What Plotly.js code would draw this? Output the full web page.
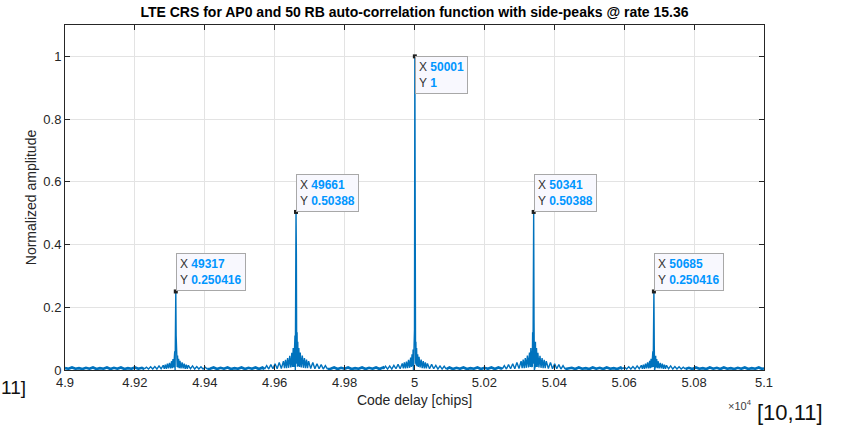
<!DOCTYPE html>
<html>
<head>
<meta charset="utf-8">
<script src="https://cdn.plot.ly/plotly-3.0.1.min.js"></script>
<style>html,body{margin:0;padding:0;background:#fff;}#chart{width:845px;height:426px;}</style>
</head>
<body>
<div id="chart"></div>
<script>
// ---- data ----
const peakCenters = [49317, 49661, 50001, 50341, 50685];
const peakHeights = [0.250416, 0.50388, 1, 0.50388, 0.250416];

// lag grid (chips) around each peak
const lagOffsets = [-90,-84,-78,-72,-66,-60,-54,-48,-42,-36,-33,-30,-27,-24,-21,-18,-15,-12,-10,-8,-6,-5,-4,-3,-2,-1,0,1,2,3,4,5,6,8,10,12,15,18,21,24,27,30,33,36,42,48,54,60,66,72,78,84,90];

const peakA_Y = [0.003,0.009,0.003,0.010,0.003,0.011,0.003,0.013,0.004,0.015,0.004,0.017,0.004,0.020,0.005,0.023,0.005,0.028,0.006,0.035,0.008,0.045,0.010,0.060,0.000,0.080,
  0.250416,
  0.110,0.010,0.060,0.010,0.046,0.008,0.036,0.006,0.029,0.005,0.024,0.005,0.020,0.004,0.017,0.004,0.015,0.004,0.013,0.003,0.011,0.003,0.010,0.003,0.009,0.003];
const peakB_Y = [0.003,0.014,0.003,0.017,0.004,0.020,0.004,0.024,0.005,0.028,0.006,0.032,0.006,0.038,0.007,0.045,0.008,0.055,0.010,0.070,0.010,0.090,0.010,0.110,0.000,0.160,
  0.50388,
  0.370,0.020,0.120,0.010,0.090,0.012,0.070,0.010,0.056,0.008,0.046,0.007,0.038,0.006,0.033,0.006,0.028,0.005,0.024,0.004,0.020,0.004,0.017,0.003,0.014,0.003];
const peakC_Y = [0.003,0.012,0.003,0.013,0.003,0.015,0.004,0.018,0.004,0.021,0.005,0.024,0.005,0.027,0.006,0.032,0.007,0.040,0.010,0.050,0.012,0.065,0.000,0.090,0.000,0.130,
  1,
  0.140,0.020,0.090,0.015,0.070,0.012,0.050,0.010,0.042,0.008,0.033,0.006,0.028,0.005,0.024,0.005,0.021,0.004,0.018,0.004,0.015,0.003,0.013,0.003,0.012,0.003];
const peakD_Y = [0.003,0.014,0.003,0.017,0.004,0.020,0.004,0.024,0.005,0.028,0.006,0.033,0.006,0.038,0.007,0.046,0.008,0.056,0.010,0.070,0.012,0.090,0.010,0.120,0.020,0.370,
  0.50388,
  0.160,0.000,0.110,0.010,0.090,0.010,0.070,0.010,0.055,0.008,0.045,0.007,0.038,0.006,0.032,0.006,0.028,0.005,0.024,0.004,0.020,0.004,0.017,0.003,0.014,0.003];
const peakE_Y = [0.003,0.009,0.003,0.010,0.003,0.011,0.003,0.013,0.004,0.015,0.004,0.017,0.004,0.020,0.005,0.024,0.005,0.029,0.006,0.036,0.008,0.046,0.010,0.060,0.010,0.110,
  0.250416,
  0.080,0.000,0.060,0.010,0.045,0.008,0.035,0.006,0.028,0.005,0.023,0.005,0.020,0.004,0.017,0.004,0.015,0.004,0.013,0.003,0.011,0.003,0.010,0.003,0.009,0.003];

// noise floor between the peaks
const floor1X = [49000,49010,49020,49030,49040,49050,49060,49070,49080,49090,49100,49110,49120,49130,49140,49150,49160,49170,49180,49190,49200,49210,49220,49227];
const floor1Y = [0.006,0.004,0.008,0.004,0.006,0.003,0.007,0.004,0.008,0.003,0.006,0.004,0.008,0.003,0.007,0.004,0.008,0.003,0.006,0.004,0.008,0.004,0.007,0.003];
const floor2X = [49407,49415,49425,49435,49445,49455,49465,49475,49485,49495,49505,49515,49525,49535,49545,49555,49565,49571];
const floor2Y = [0.003,0.004,0.008,0.003,0.007,0.004,0.008,0.003,0.006,0.004,0.008,0.003,0.007,0.004,0.008,0.003,0.008,0.003];
const floor3X = [49751,49760,49770,49780,49790,49800,49810,49820,49830,49840,49850,49860,49870,49880,49890,49900,49910,49911];
const floor3Y = [0.003,0.004,0.008,0.003,0.007,0.004,0.008,0.003,0.006,0.004,0.008,0.003,0.007,0.004,0.008,0.003,0.008,0.003];
const floor4X = [50091,50100,50110,50120,50130,50140,50150,50160,50170,50180,50190,50200,50210,50220,50230,50240,50250,50251];
const floor4Y = [0.003,0.008,0.003,0.007,0.004,0.008,0.003,0.006,0.004,0.008,0.003,0.007,0.004,0.008,0.003,0.008,0.004,0.003];
const floor5X = [50431,50440,50450,50460,50470,50480,50490,50500,50510,50520,50530,50540,50550,50560,50570,50580,50590,50595];
const floor5Y = [0.003,0.004,0.007,0.003,0.008,0.004,0.006,0.003,0.008,0.004,0.007,0.003,0.008,0.004,0.006,0.003,0.008,0.003];
const floor6X = [50775,50785,50795,50805,50815,50825,50835,50845,50855,50865,50875,50885,50895,50905,50915,50925,50935,50945,50955,50965,50975,50985,50995,51000];
const floor6Y = [0.003,0.007,0.003,0.008,0.004,0.006,0.003,0.008,0.004,0.007,0.003,0.008,0.004,0.006,0.003,0.007,0.004,0.008,0.003,0.006,0.004,0.008,0.003,0.006];

const xTickVals = [49000,49200,49400,49600,49800,50000,50200,50400,50600,50800,51000];
const xTickText = ['4.9','4.92','4.94','4.96','4.98','5','5.02','5.04','5.06','5.08','5.1'];
const yTickVals = [0,0.2,0.4,0.6,0.8,1];
const yTickText = ['0','0.2','0.4','0.6','0.8','1'];

// ---- build the traces ----
const peakYs = [peakA_Y, peakB_Y, peakC_Y, peakD_Y, peakE_Y];
const floorXs = [floor1X, floor2X, floor3X, floor4X, floor5X, floor6X];
const floorYs = [floor1Y, floor2Y, floor3Y, floor4Y, floor5Y, floor6Y];
let px = [], py = [], fx = [], fy = [];
for (let i = 0; i < 6; i++) {
  fx = fx.concat(floorXs[i], [null]); fy = fy.concat(floorYs[i], [null]);
  if (i < 5) {
    px = px.concat(lagOffsets.map(o => peakCenters[i] + o), [null]);
    py = py.concat(peakYs[i], [null]);
  }
}

const lineColor = '#0072BD';
const traces = [
  {x: fx, y: fy, type: 'scatter', mode: 'lines', line: {color: lineColor, width: 2.6}, connectgaps: false, hoverinfo: 'skip'},
  {x: px, y: py, type: 'scatter', mode: 'lines', line: {color: lineColor, width: 1.4}, connectgaps: false, hoverinfo: 'skip'},
  {x: peakCenters, y: peakHeights, type: 'scatter', mode: 'markers',
   marker: {symbol: 'square', size: 4, color: '#202020'}, hoverinfo: 'skip'}
];

const tipBlue = '#0096FF';
const F = 'Liberation Sans, Arial, sans-serif';
const annotations = peakCenters.map((c, i) => ({
  x: c, y: peakHeights[i], xref: 'x', yref: 'y',
  xanchor: 'left', yanchor: peakHeights[i] >= 1 ? 'top' : 'bottom',
  showarrow: false, align: 'left',
  text: 'X <b><span style="color:' + tipBlue + '">' + c + '</span></b><br>Y <b><span style="color:' + tipBlue + '">' + peakHeights[i] + '</span></b>',
  font: {family: F, size: 12, color: '#333333'},
  bgcolor: '#F8F8FE', bordercolor: '#A8A8A8', borderwidth: 1, borderpad: 3
}));
annotations.push(
  {xref: 'paper', yref: 'paper', x: 1.0, y: -26/345, xanchor: 'right', yanchor: 'top', showarrow: false,
   text: '×10<sup>4</sup>', font: {family: F, size: 11, color: '#404040'}, xshift: -10},
  {xref: 'paper', yref: 'paper', x: -66/699, y: -5/345, xanchor: 'left', yanchor: 'top', showarrow: false,
   text: '11]', font: {family: F, size: 19, color: '#111111'}},
  {xref: 'paper', yref: 'paper', x: 690/699, y: -28/345, xanchor: 'left', yanchor: 'top', showarrow: false,
   text: '[10,11]', font: {family: F, size: 22, color: '#111111'}}
);

const axisFont = {family: F, size: 13, color: '#262626'};
const layout = {
  width: 845, height: 426,
  margin: {l: 65, r: 81, t: 25, b: 56},
  paper_bgcolor: '#ffffff', plot_bgcolor: '#ffffff',
  showlegend: false,
  title: {text: '<b>LTE CRS for AP0 and 50 RB auto-correlation function with side-peaks @ rate 15.36</b>',
          font: {family: F, size: 14, color: '#000000'},
          x: 414.5/845, xanchor: 'center', y: 1 - 12/426, yanchor: 'middle'},
  xaxis: {range: [49000, 51000], tickvals: xTickVals, ticktext: xTickText,
          showgrid: true, gridcolor: '#e3e3e3', gridwidth: 1, zeroline: false,
          showline: true, linecolor: '#262626', linewidth: 1, mirror: 'ticks',
          ticks: 'inside', ticklen: 5, tickcolor: '#262626', tickfont: axisFont,
          title: {text: 'Code delay [chips]', font: {family: F, size: 14, color: '#262626'}, standoff: 6}},
  yaxis: {range: [0, 1.1], tickvals: yTickVals, ticktext: yTickText,
          showgrid: true, gridcolor: '#e3e3e3', gridwidth: 1, zeroline: false,
          showline: true, linecolor: '#262626', linewidth: 1, mirror: 'ticks',
          ticks: 'inside', ticklen: 5, tickcolor: '#262626', tickfont: axisFont,
          title: {text: 'Normalized amplitude', font: {family: F, size: 14, color: '#262626'}, standoff: 3}},
  annotations: annotations
};

Plotly.newPlot('chart', traces, layout, {displayModeBar: false, staticPlot: true});
</script>
</body>
</html>
